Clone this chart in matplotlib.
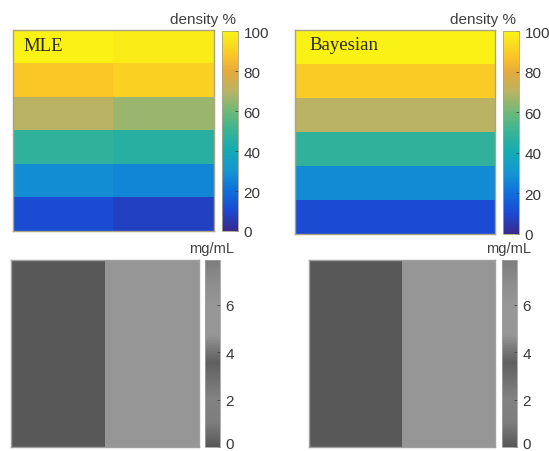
import numpy as np
import matplotlib
matplotlib.use('Agg')
import matplotlib.pyplot as plt
from matplotlib.colors import LinearSegmentedColormap
from matplotlib.transforms import ScaledTranslation

W, H = 549, 452

# density % per insert, top to bottom, left half / right half
mle_left = [99, 88, 70, 48, 28, 11]
mle_right = [98, 91, 66, 46, 26, 8]
bayes_band = [99, 89, 70, 48, 27, 11]
# mg/mL, left half / right half
mle_conc = [0.0, 5.4]
bayes_conc = [0.0, 5.4]

density_ticks = [0, 20, 40, 60, 80, 100]
conc_ticks = [0, 2, 4, 6]

# colormap stops
density_stops = [(0.00, '#3a2a8c'), (0.10, '#1c48d2'), (0.20, '#0f6edc'), (0.30, '#1496d2'),
                 (0.40, '#14aab4'), (0.50, '#37b496'), (0.60, '#6eb978'), (0.70, '#b9b464'),
                 (0.80, '#e6aa3c'), (0.87, '#fac328'), (0.95, '#fae11e'), (1.00, '#faf514')]
gray_stops = [(0.00, '#585858'), (0.13, '#7d7d7d'), (0.26, '#828282'), (0.40, '#696969'),
              (0.45, '#5f5f5f'), (0.51, '#737373'), (0.60, '#969696'), (0.76, '#979797'),
              (0.89, '#8c8c8c'), (1.00, '#7d7d7d')]
parula_like = LinearSegmentedColormap.from_list('parula_like', density_stops)
gray_like = LinearSegmentedColormap.from_list('gray_like', gray_stops)


def px_axes(fig, x0, y0, x1, y1):
    # axes from pixel box, y measured from the top
    return fig.add_axes([x0 / W, 1 - y1 / H, (x1 - x0) / W, (y1 - y0) / H])


def panel(fig, box, cbox, img, cmap, vmax, ticks, frame):
    ax = px_axes(fig, *box)
    im = ax.imshow(img, cmap=cmap, vmin=0, vmax=vmax, aspect='auto', interpolation='nearest')
    ax.set_xticks([])
    ax.set_yticks([])
    for s in ax.spines.values():
        s.set_color(frame)
        s.set_linewidth(1.0)
    cax = px_axes(fig, *cbox)
    cb = fig.colorbar(im, cax=cax)
    cb.set_ticks(ticks)
    cb.ax.tick_params(length=2, width=0.6, direction='in', color='#404040', labelcolor='#383838',
                      labelsize=11, pad=4)
    cb.outline.set_edgecolor(frame)
    cb.outline.set_linewidth(0.6)
    return ax, cb


def lift_zero_label(fig, cb):
    # the 0 sits right on the bottom edge, nudge it up so it is not cut
    lab = cb.ax.get_yticklabels()[0]
    lab.set_transform(lab.get_transform() + ScaledTranslation(0, 4 / 100, fig.dpi_scale_trans))


plt.rcParams['font.family'] = ['Liberation Sans', 'DejaVu Sans']
fig = plt.figure(figsize=(W / 100, H / 100), dpi=100)

top_frame = '#a8a484'
bot_frame = '#a0a0a0'

ax, cb = panel(fig, (13, 31, 214, 232), (222, 32, 238, 232),
               np.column_stack([mle_left, mle_right]), parula_like, 100, density_ticks, top_frame)
ax.text(0.05, 0.925, 'MLE', transform=ax.transAxes, family='Liberation Serif', fontsize=13.5,
        color='#2a2a10', va='center')

ax, cb = panel(fig, (295, 31, 495, 235), (503, 32, 519, 235),
               np.array(bayes_band).reshape(-1, 1), parula_like, 100, density_ticks, top_frame)
ax.text(0.07, 0.93, 'Bayesian', transform=ax.transAxes, family='Liberation Serif', fontsize=13.5,
        color='#2a2a10', va='center')

ax, cb = panel(fig, (11, 261, 199, 448), (205, 261, 220, 448),
               np.array(mle_conc).reshape(1, -1), gray_like, 7.9, conc_ticks, bot_frame)
lift_zero_label(fig, cb)
ax, cb = panel(fig, (309, 261, 495, 448), (502, 261, 517, 448),
               np.array(bayes_conc).reshape(1, -1), gray_like, 7.9, conc_ticks, bot_frame)
lift_zero_label(fig, cb)

fig.text(203 / W, 1 - 20 / H, 'density %', fontsize=11, color='#404040', ha='center', va='center')
fig.text(483 / W, 1 - 20 / H, 'density %', fontsize=11, color='#404040', ha='center', va='center')
fig.text(212 / W, 1 - 249 / H, 'mg/mL', fontsize=10.5, color='#404040', ha='center', va='center')
fig.text(509 / W, 1 - 249 / H, 'mg/mL', fontsize=10.5, color='#404040', ha='center', va='center')

fig.savefig('out.png', dpi=100)
